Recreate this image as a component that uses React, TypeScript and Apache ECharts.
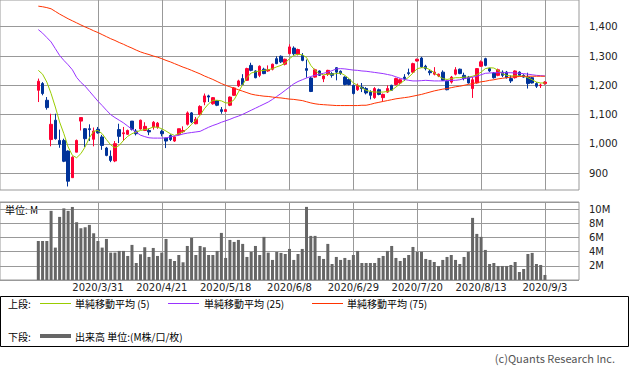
import React, { useEffect, useRef } from "react";
import * as echarts from "echarts";

// Trading days (2020, Japanese market)
const MAR = [10, 11, 12, 13, 16, 17, 18, 19, 23, 24, 25, 26, 27, 30, 31];
const APR = [1, 2, 3, 6, 7, 8, 9, 10, 13, 14, 15, 16, 17, 20, 21, 22, 23, 24, 27, 28, 30];
const MAY = [1, 7, 8, 11, 12, 13, 14, 15, 18, 19, 20, 21, 22, 25, 26, 27, 28, 29];
const JUN = [1, 2, 3, 4, 5, 8, 9, 10, 11, 12, 15, 16, 17, 18, 19, 22, 23, 24, 25, 26, 29, 30];
const JUL = [1, 2, 3, 6, 7, 8, 9, 10, 13, 14, 15, 16, 17, 20, 21, 22, 27, 28, 29, 30, 31];
const AUG = [3, 4, 5, 6, 7, 11, 12, 13, 14, 17, 18, 19, 20, 21, 24, 25, 26, 27, 28, 31];
const SEP = [1, 2, 3];

const tickLabels = ["2020/3/31", "2020/4/21", "2020/5/18", "2020/6/8", "2020/6/29", "2020/7/20", "2020/8/13", "2020/9/3"];
const priceTicks = [900, 1000, 1100, 1200, 1300, 1400];

const openP = [1183,1206,1149,1015,1081,1012,1012,976,885,972,1078,1052,1052,1016,1050,1024,986,958,942,1049,1035,1033,1078,1044,1051,1046,1046,1058,1058,1043,1020,1029,1010,1032,1042,1067,1106,1069,1101,1143,1164,1137,1147,1117,1111,1132,1166,1198,1223,1217,1268,1249,1234,1255,1249,1255,1291,1299,1272,1308,1327,1306,1302,1257,1225,1228,1249,1222,1238,1240,1260,1248,1228,1220,1200,1185,1194,1189,1177,1158,1185,1158,1177,1200,1203,1208,1228,1243,1245,1283,1293,1265,1248,1238,1232,1245,1214,1211,1238,1255,1234,1228,1189,1208,1265,1291,1257,1242,1234,1245,1245,1223,1226,1245,1234,1228,1226,1206,1199,1206];
const closeP = [1214,1172,1124,1067,1018,999,941,873,955,1012,1090,1018,1049,1044,1038,995,961,944,1001,1026,1038,1046,1050,1035,1081,1060,1041,1074,1071,1035,1010,1015,1024,1052,1046,1106,1075,1084,1128,1164,1160,1158,1132,1111,1117,1160,1191,1215,1203,1257,1251,1226,1265,1240,1253,1272,1274,1280,1289,1331,1308,1322,1285,1251,1179,1253,1234,1232,1251,1234,1245,1240,1203,1203,1172,1200,1189,1174,1166,1189,1169,1169,1189,1183,1223,1219,1223,1240,1274,1289,1263,1257,1243,1245,1238,1217,1185,1228,1253,1240,1223,1208,1219,1257,1280,1268,1249,1226,1253,1234,1226,1215,1249,1234,1228,1206,1208,1197,1201,1211];
const highP = [1223,1211,1160,1103,1103,1049,1018,978,958,1015,1090,1054,1067,1056,1058,1031,990,978,1010,1069,1058,1049,1078,1051,1083,1074,1052,1078,1075,1049,1021,1033,1026,1052,1060,1111,1109,1092,1132,1172,1168,1160,1149,1126,1120,1162,1194,1219,1238,1260,1277,1251,1268,1260,1268,1274,1299,1302,1291,1340,1333,1325,1310,1288,1228,1257,1251,1234,1253,1245,1262,1251,1231,1223,1202,1206,1208,1194,1183,1194,1189,1172,1200,1202,1226,1223,1238,1257,1277,1291,1297,1270,1253,1262,1240,1251,1217,1232,1262,1257,1243,1232,1228,1259,1285,1294,1260,1245,1257,1251,1249,1234,1251,1248,1238,1243,1228,1211,1206,1214];
const lowP = [1143,1166,1117,992,1015,987,938,855,884,972,1046,990,1010,992,1035,980,958,938,938,1003,1010,1032,1046,1029,1049,1044,1030,1049,1052,1026,986,1010,1007,1029,1037,1063,1071,1067,1098,1132,1143,1134,1129,1103,1109,1129,1164,1194,1201,1215,1248,1224,1228,1238,1246,1251,1272,1276,1268,1306,1302,1302,1282,1226,1177,1226,1232,1211,1232,1226,1217,1236,1200,1200,1169,1181,1177,1169,1152,1154,1166,1146,1174,1181,1200,1203,1215,1234,1243,1281,1260,1251,1234,1234,1228,1215,1183,1206,1234,1238,1217,1206,1157,1206,1263,1265,1245,1223,1231,1228,1223,1208,1223,1232,1226,1189,1206,1191,1191,1202];

const ma5 = [1251,1238,1211,1172,1126,1075,1035,990,961,953,967,990,1021,1043,1046,1035,1015,997,987,995,1012,1026,1035,1041,1046,1049,1052,1058,1057,1052,1044,1035,1029,1035,1041,1052,1067,1081,1098,1120,1137,1149,1149,1147,1140,1140,1151,1177,1202,1226,1242,1246,1249,1251,1253,1257,1263,1268,1276,1291,1302,1306,1304,1295,1268,1251,1240,1236,1238,1238,1240,1242,1234,1223,1208,1200,1191,1183,1179,1177,1177,1177,1179,1183,1194,1206,1217,1228,1242,1257,1260,1260,1253,1243,1232,1223,1220,1223,1226,1226,1228,1228,1231,1236,1245,1257,1260,1259,1251,1240,1234,1232,1232,1232,1231,1226,1219,1211,1208,1208];
const ma25 = [1390,1378,1363,1348,1325,1302,1285,1270,1253,1227,1210,1197,1180,1163,1146,1131,1115,1100,1090,1081,1072,1061,1050,1040,1030,1025,1021,1020,1020,1020,1021,1024,1027,1030,1034,1037,1039,1041,1043,1050,1057,1063,1068,1074,1079,1084,1090,1095,1101,1108,1115,1122,1129,1136,1143,1152,1162,1172,1183,1194,1205,1213,1219,1225,1230,1234,1238,1241,1245,1250,1256,1257,1256,1254,1252,1251,1249,1248,1246,1244,1242,1240,1237,1234,1229,1224,1220,1217,1215,1215,1216,1217,1216,1215,1215,1215,1216,1217,1217,1219,1223,1225,1228,1231,1236,1241,1242,1243,1243,1243,1243,1243,1242,1241,1240,1238,1236,1234,1233,1232];
const ma75 = [1470,1468,1465,1461,1452,1443,1435,1427,1420,1413,1406,1399,1393,1386,1380,1373,1366,1359,1353,1346,1340,1333,1327,1320,1314,1309,1305,1300,1296,1291,1285,1280,1274,1268,1262,1257,1251,1245,1239,1232,1226,1220,1213,1206,1200,1195,1190,1185,1180,1175,1170,1167,1165,1163,1162,1160,1158,1157,1155,1153,1152,1150,1148,1144,1140,1137,1135,1134,1133,1132,1131,1131,1131,1131,1131,1131,1132,1132,1135,1139,1142,1145,1148,1151,1154,1156,1158,1160,1163,1166,1169,1173,1177,1181,1184,1187,1189,1192,1195,1197,1200,1203,1206,1209,1212,1214,1217,1219,1222,1224,1226,1228,1229,1230,1231,1231,1231,1231,1231,1231];

// volume, millions
const volume = [5.5,5.5,5.5,9.75,4.57,8.9,10.1,9.75,10.3,8.15,7.3,7.44,7.77,6.59,5.5,4.57,5.79,3.86,3.86,4.1,4.1,3.39,4.95,2.4,3.63,4.62,3.25,4.52,3.39,3.86,5.79,2.97,2.68,3.53,2.5,4.8,5.93,3.53,4.8,4.62,3.53,3.53,4.1,6.64,3.11,5.65,5.37,5.65,5.09,3.25,3.96,4.8,3.53,6.08,3.86,2.83,3.96,3.82,3.67,4.38,2.83,3.67,4.38,10.31,6.22,6.22,3.39,2.97,5.09,2.26,3.25,2.83,3.11,2.83,3.53,4.1,2.4,2.4,2.4,2.4,3.11,3.39,4.1,4.8,3.11,2.68,3.11,3.53,4.66,3.96,3.96,2.97,2.83,2.54,1.98,2.83,3.25,3.53,2.83,2.26,3.25,3.96,8.76,6.5,6.08,4.24,2.26,2.4,1.98,1.98,1.98,2.12,2.54,1.13,1.55,3.67,3.82,2.26,2.12,0.71];

const PAD_L = 9;
const PAD_R = 8;

const C_UP = "#ff0033";
const C_DOWN = "#003399";
const C_MA5 = "#99cc00";
const C_MA25 = "#9933ff";
const C_MA75 = "#ff3300";
const C_GRID = "#999999";
const AX_FONT = "DejaVu Sans";
const JP_FONT = '"Noto Sans CJK JP"';

function buildDates(): string[] {
  const out: string[] = [];
  const months: [number, number[]][] = [[3, MAR], [4, APR], [5, MAY], [6, JUN], [7, JUL], [8, AUG], [9, SEP]];
  months.forEach(([m, days]) => days.forEach((d) => out.push(`2020/${m}/${d}`)));
  return out;
}

function pad<T>(arr: T[], fill: any): any[] {
  return [...Array(PAD_L).fill(fill), ...arr, ...Array(PAD_R).fill(fill)];
}

export default function App() {
  const ref = useRef<HTMLDivElement>(null);
  useEffect(() => {
    if (!ref.current) return;
    const chart = echarts.init(ref.current, null, { renderer: "svg" });
    const dates = buildDates();
    const cats = pad(dates, "");
    const candle = pad(
      dates.map((_, i) => [openP[i], closeP[i], lowP[i], highP[i]]),
      "-"
    );
    const isTick = (_idx: number, value: string) => tickLabels.includes(value);

    const xCommon = {
      type: "category",
      data: cats,
      boundaryGap: false,
      axisLine: { show: false },
      axisTick: { show: false },
      splitLine: { show: true, interval: isTick, lineStyle: { color: C_GRID, width: 1 } },
    };

    const lineSeries = (name: string, data: number[], color: string) => ({
      name,
      type: "line",
      xAxisIndex: 0,
      yAxisIndex: 0,
      data: pad(data, "-"),
      symbol: "none",
      lineStyle: { color, width: 1 },
      z: 3,
      silent: true,
    });

    const txt = (text: string, x: number, y: number, extra: any = {}) => ({
      type: "text",
      x,
      y,
      silent: true,
      style: {
        text,
        font: `10px ${JP_FONT}`,
        fill: "#000",
        textAlign: "left",
        textVerticalAlign: "middle",
        align: "left",
        verticalAlign: "middle",
        ...extra,
      },
    });
    const seg = (x1: number, x2: number, y: number, color: string, w = 1) => ({
      type: "line",
      silent: true,
      shape: { x1, y1: y, x2, y2: y },
      style: { stroke: color, lineWidth: w },
    });

    chart.setOption({
      animation: false,
      grid: [
        { left: 0, top: 0, width: 579, height: 190, show: true, borderColor: C_GRID, borderWidth: 1, backgroundColor: "transparent" },
        { left: 0, top: 202, width: 579, height: 78, show: true, borderColor: C_GRID, borderWidth: 1, backgroundColor: "transparent" },
      ],
      xAxis: [
        { ...xCommon, gridIndex: 0, axisLabel: { show: false } },
        {
          ...xCommon,
          gridIndex: 1,
          axisLabel: {
            show: true,
            interval: isTick,
            color: "#222",
            fontFamily: AX_FONT,
            fontSize: 10,
            margin: 2,
          },
        },
      ],
      yAxis: [
        {
          type: "value",
          gridIndex: 0,
          position: "right",
          min: 843,
          max: 1491,
          axisLine: { show: false },
          axisTick: { show: false, customValues: priceTicks },
          axisLabel: {
            customValues: priceTicks,
            color: "#222",
            fontFamily: AX_FONT,
            fontSize: 10,
            margin: 10,
            formatter: (v: number) => v.toLocaleString("en-US"),
          },
          splitLine: { show: true, lineStyle: { color: C_GRID, width: 1 } },
        },
        {
          type: "value",
          gridIndex: 1,
          position: "right",
          min: 0,
          max: 11,
          interval: 2,
          axisLine: { show: false },
          axisTick: { show: false },
          axisLabel: {
            color: "#222",
            fontFamily: AX_FONT,
            fontSize: 10,
            margin: 10,
            formatter: (v: number) => (v === 0 || v > 10 ? "" : `${v}M`),
          },
          splitLine: { show: true, lineStyle: { color: C_GRID, width: 1 } },
        },
      ],
      series: [
        {
          name: "株価",
          type: "candlestick",
          xAxisIndex: 0,
          yAxisIndex: 0,
          data: candle,
          barWidth: 3,
          itemStyle: { color: C_UP, color0: C_DOWN, borderColor: C_UP, borderColor0: C_DOWN, borderWidth: 1 },
          z: 2,
        },
        lineSeries("単純移動平均(5)", ma5, C_MA5),
        lineSeries("単純移動平均(25)", ma25, C_MA25),
        lineSeries("単純移動平均(75)", ma75, C_MA75),
        {
          name: "出来高",
          type: "bar",
          xAxisIndex: 1,
          yAxisIndex: 1,
          data: pad(volume, "-"),
          barWidth: 3,
          itemStyle: { color: "#666666" },
        },
      ],
      graphic: [
        txt("単位: M", 5, 209),
        { type: "rect", silent: true, shape: { x: 0.5, y: 296.5, width: 628, height: 50 }, style: { fill: "none", stroke: "#000", lineWidth: 1 } },
        txt("上段:", 8, 303),
        seg(40, 71, 303.5, C_MA5),
        txt("単純移動平均 (5)", 75, 303),
        seg(168, 199, 303.5, C_MA25),
        txt("単純移動平均 (25)", 204, 303),
        seg(312, 343, 303.5, C_MA75),
        txt("単純移動平均 (75)", 347, 303),
        txt("下段:", 8, 336),
        seg(40, 71, 336, "#666666", 4),
        txt("出来高 単位:(M株/口/枚)", 75, 336),
        txt("(c)Quants Research Inc.", 615, 358, { textAlign: "right", align: "right", fill: "#555", font: `11px ${JP_FONT}` }),
      ],
    });
    return () => chart.dispose();
  }, []);
  return <div ref={ref} style={{ position: "absolute", left: 0, top: 0, width: 633, height: 374 }} />;
}
